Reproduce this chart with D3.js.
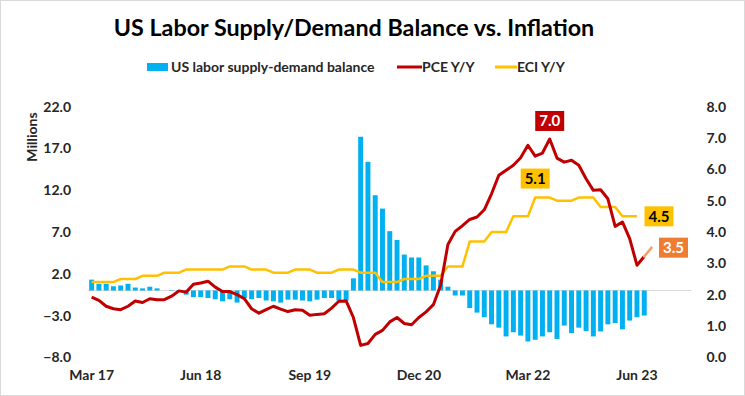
<!DOCTYPE html>
<html>
<head>
<meta charset="utf-8">
<script src="https://cdn.jsdelivr.net/npm/d3@7"></script>
<style>
  body { margin: 0; background: #fff; }
  svg { display: block; font-family: Lato, "Open Sans", sans-serif; }
</style>
</head>
<body>
<svg id="chart" width="745" height="396"></svg>
<script>
// monthly categories, Mar 2017 .. Jan 2024 (axis runs past the last data point)
const fmt = d3.timeFormat("%b %y");
const months = d3.timeMonth.range(new Date(2017, 2, 1), new Date(2024, 1, 1)).map(fmt);
const tickLabels = ["Mar 17", "Jun 18", "Sep 19", "Dec 20", "Mar 22", "Jun 23"];

// US labor supply-demand balance (millions), Mar 17 .. Jul 23
const balance = [
  1.3, 0.8, 0.8, 0.5, 0.6, 0.8, 0.35, 0.25, 0.45, 0.25,
  0.0, 0.05, -0.1, -0.5, -0.8, -0.8, -0.9, -1.05, -1.3, -1.05,
  -1.45, -0.9, -1.05, -0.9, -1.2, -1.3, -1.45, -1.1, -1.1, -1.2,
  -1.3, -1.1, -0.9, -0.9, -1.2, -1.2, 1.45, 18.4, 15.4, 11.4,
  9.8, 7.1, 6.05, 4.3, 3.95, 3.95, 3.0, 2.3, 1.3, 0.45,
  -0.6, -0.6, -2.1, -2.65, -3.2, -4.05, -4.45, -5.5, -5.0, -5.4,
  -6.1, -5.9, -5.5, -5.0, -5.8, -4.2, -5.1, -4.45, -4.85, -5.5,
  -4.9, -4.05, -3.9, -4.65, -3.6, -3.2, -3.0
];

// PCE Y/Y (%), Mar 17 .. Jul 23
const pce = [
  1.92, 1.82, 1.63, 1.55, 1.52, 1.63, 1.80, 1.75, 1.87, 1.84,
  1.84, 1.95, 2.12, 2.08, 2.33, 2.37, 2.43, 2.24, 2.10, 2.10,
  2.00, 1.87, 1.55, 1.41, 1.52, 1.63, 1.54, 1.46, 1.52, 1.50,
  1.34, 1.37, 1.39, 1.57, 1.79, 1.80, 1.27, 0.38, 0.44, 0.73,
  0.86, 1.13, 1.27, 1.08, 1.04, 1.27, 1.45, 1.68, 2.30, 3.60,
  4.02, 4.20, 4.40, 4.48, 4.71, 5.22, 5.81, 5.97, 6.13, 6.37,
  6.77, 6.42, 6.52, 6.97, 6.36, 6.23, 6.29, 6.13, 5.70, 5.33,
  5.35, 5.06, 4.18, 4.32, 3.79, 2.94, 3.22
];
// PCE estimate, Jul 23 .. Aug 23
const pceEst = [3.22, 3.5];

// ECI Y/Y (%), quarterly value held per month, Mar 17 .. Jun 23
const eci = [
  2.4, 2.4, 2.4, 2.4, 2.5, 2.5, 2.5, 2.6, 2.6, 2.6,
  2.7, 2.7, 2.7, 2.8, 2.8, 2.8, 2.8, 2.8, 2.8, 2.9,
  2.9, 2.9, 2.8, 2.8, 2.8, 2.7, 2.7, 2.7, 2.8, 2.8,
  2.8, 2.7, 2.7, 2.7, 2.8, 2.8, 2.8, 2.7, 2.7, 2.7,
  2.4, 2.4, 2.4, 2.5, 2.5, 2.5, 2.6, 2.6, 2.6, 2.9,
  2.9, 2.9, 3.7, 3.7, 3.7, 4.0, 4.0, 4.0, 4.5, 4.5,
  4.5, 5.1, 5.1, 5.1, 5.0, 5.0, 5.0, 5.1, 5.1, 5.1,
  4.8, 4.8, 4.8, 4.5, 4.5, 4.5
];

const leftTicks = [-8, -3, 2, 7, 12, 17, 22];
const rightTicks = [0, 1, 2, 3, 4, 5, 6, 7, 8];

const svg = d3.select("#chart");
const W = 745, H = 396;
const plot = { left: 88, right: 691.5, top: 106.7, bottom: 357.3 };

// light frame round the picture
svg.append("rect")
  .attr("x", 0.5).attr("y", 0.5)
  .attr("width", W - 1).attr("height", H - 1)
  .attr("fill", "#fff").attr("stroke", "#d9d9d9");

const x = d3.scaleBand()
  .domain(months)
  .range([plot.left, plot.right])
  .paddingInner(0.32)
  .paddingOuter(0.16);
const cx = i => x(months[i]) + x.bandwidth() / 2;

const yL = d3.scaleLinear().domain([-8, 22]).range([plot.bottom, plot.top]);
const yR = d3.scaleLinear().domain([0, 8]).range([plot.bottom, plot.top]);

// title
svg.append("text")
  .attr("x", 354).attr("y", 36)
  .attr("text-anchor", "middle")
  .attr("font-size", 23.3).attr("font-weight", 700)
  .attr("fill", "#000")
  .text("US Labor Supply/Demand Balance vs. Inflation");

// legend
const lg = svg.append("g").attr("font-size", 14).attr("font-weight", 700).attr("fill", "#262626");
lg.append("rect").attr("x", 147).attr("y", 63).attr("width", 21).attr("height", 8).attr("fill", "#00B0F0");
lg.append("text").attr("x", 171).attr("y", 72).text("US labor supply-demand balance");
lg.append("line").attr("x1", 397).attr("x2", 422).attr("y1", 67).attr("y2", 67)
  .attr("stroke", "#C00000").attr("stroke-width", 3);
lg.append("text").attr("x", 422).attr("y", 72).text("PCE Y/Y");
lg.append("line").attr("x1", 495).attr("x2", 517).attr("y1", 67).attr("y2", 67)
  .attr("stroke", "#FFC000").attr("stroke-width", 3);
lg.append("text").attr("x", 517).attr("y", 72).text("ECI Y/Y");

// left axis
const axL = svg.append("g")
  .attr("transform", `translate(${plot.left - 14},0)`)
  .call(d3.axisLeft(yL).tickValues(leftTicks).tickSize(0).tickFormat(d3.format(".1f")));
axL.select(".domain").remove();
axL.selectAll("text").attr("font-size", 14).attr("font-weight", 700).attr("fill", "#262626")
  .attr("font-family", "Lato, sans-serif");

// right axis
const axR = svg.append("g")
  .attr("transform", `translate(${plot.right + 12},0)`)
  .call(d3.axisRight(yR).tickValues(rightTicks).tickSize(0).tickFormat(d3.format(".1f")));
axR.select(".domain").remove();
axR.selectAll("text").attr("font-size", 14).attr("font-weight", 700).attr("fill", "#262626")
  .attr("font-family", "Lato, sans-serif");

// left axis title
svg.append("text")
  .attr("transform", "translate(37,137) rotate(-90)")
  .attr("text-anchor", "middle")
  .attr("font-size", 14).attr("font-weight", 700).attr("fill", "#262626")
  .text("Millions");

// bottom axis (labels only)
const axB = svg.append("g")
  .attr("transform", `translate(0,${plot.bottom + 10})`)
  .call(d3.axisBottom(x).tickValues(tickLabels).tickSize(0));
axB.select(".domain").remove();
axB.selectAll("text").attr("font-size", 14).attr("font-weight", 700).attr("fill", "#262626")
  .attr("font-family", "Lato, sans-serif");

// zero line of the balance
svg.append("line")
  .attr("x1", plot.left).attr("x2", plot.right)
  .attr("y1", yL(0)).attr("y2", yL(0))
  .attr("stroke", "#d9d9d9").attr("stroke-width", 1);

// bars
svg.append("g").selectAll("rect")
  .data(balance)
  .join("rect")
  .attr("x", (d, i) => x(months[i]))
  .attr("width", x.bandwidth())
  .attr("y", d => Math.min(yL(d), yL(0)))
  .attr("height", d => Math.abs(yL(d) - yL(0)))
  .attr("fill", "#00B0F0");

// lines
const line = d3.line().x(d => cx(d.i)).y(d => yR(d.v));
const pts = arr => arr.map((v, i) => ({ i, v }));

svg.append("path")
  .datum(pts(eci))
  .attr("d", line)
  .attr("fill", "none").attr("stroke", "#FFC000").attr("stroke-width", 2.5)
  .attr("stroke-linejoin", "round");

svg.append("path")
  .datum(pts(pce))
  .attr("d", line)
  .attr("fill", "none").attr("stroke", "#C00000").attr("stroke-width", 3)
  .attr("stroke-linejoin", "round");

const estStart = pce.length - 1;
svg.append("path")
  .datum(pceEst.map((v, k) => ({ i: estStart + k, v })))
  .attr("d", line)
  .attr("fill", "none").attr("stroke", "#F4A06A").attr("stroke-width", 2.5)
  .attr("stroke-linecap", "round");

// value call-outs
function callout(px, py, label, bg, fg) {
  const g = svg.append("g");
  const t = g.append("text")
    .attr("x", px).attr("y", py + 5.5)
    .attr("text-anchor", "middle")
    .attr("font-size", 15).attr("font-weight", 700).attr("fill", fg)
    .text(label);
  const w = t.node().getComputedTextLength() + 8;
  g.insert("rect", "text")
    .attr("x", px - w / 2).attr("y", py - 10)
    .attr("width", w).attr("height", 20)
    .attr("fill", bg);
}

const peak = d3.maxIndex(pce);
callout(cx(peak), yR(pce[peak]) - 18, pce[peak].toFixed(1), "#C00000", "#fff");
const eciPeak = d3.maxIndex(eci);
callout(cx(eciPeak), yR(eci[eciPeak]) - 19, eci[eciPeak].toFixed(1), "#FFC000", "#000");
const eciLast = eci.length - 1;
callout(cx(eciLast) + 22, yR(eci[eciLast]), eci[eciLast].toFixed(1), "#FFC000", "#000");
const estLast = estStart + pceEst.length - 1;
callout(cx(estLast) + 22, yR(pceEst[pceEst.length - 1]), pceEst[pceEst.length - 1].toFixed(1), "#ED7D31", "#fff");
</script>
</body>
</html>
